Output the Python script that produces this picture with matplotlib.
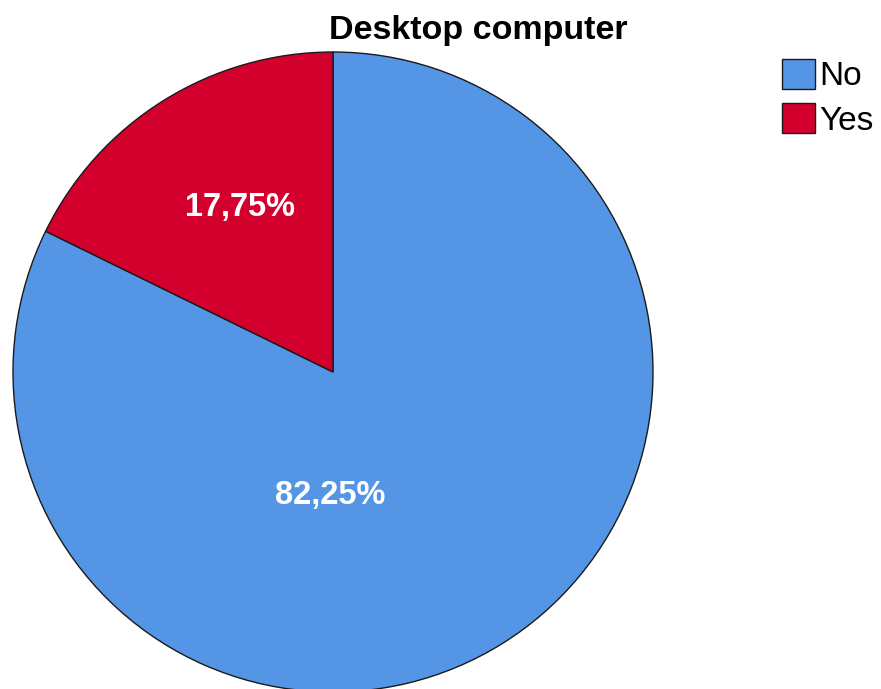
import matplotlib.pyplot as plt
from matplotlib.patches import Patch

labels = ["No", "Yes"]
values = [82.25, 17.75]
pct_labels = ["82,25%", "17,75%"]
colors = ["#5595E5", "#D3002D"]

W, H = 881, 689
fig = plt.figure(figsize=(W / 100, H / 100), dpi=100)
plt.rcParams['font.family'] = ['Liberation Sans', 'DejaVu Sans']

# pie axes placed in pixels: left 13, top 52, diameter 640
ax = fig.add_axes([13 / W, (H - 692) / H, 640 / W, 640 / H])
wedges, texts = ax.pie(values, colors=colors, startangle=90, counterclock=False,
                       wedgeprops=dict(edgecolor="#1a1a1a", linewidth=1.0))
ax.set_xlim(-1, 1)
ax.set_ylim(-1, 1)
ax.set_aspect("equal")
for w in wedges:
    w.set_clip_on(False)

# percentage labels
ax.text(-0.01, -0.385, pct_labels[0], color="white", fontsize=23.5, fontweight="bold",
        ha="center", va="center")
ax.text(-0.29, 0.515, pct_labels[1], color="white", fontsize=23.5, fontweight="bold",
        ha="center", va="center")

fig.text(478 / W, 1 - 31 / H, "Desktop computer", fontsize=24.5, fontweight="bold",
         ha="center", va="center")

handles = [Patch(facecolor=c, edgecolor="#1a1a1a", linewidth=1.0) for c in colors]
fig.legend(handles, labels, loc="upper left", bbox_to_anchor=(782 / W, 1 - 59 / H),
           frameon=False, fontsize=24, handlelength=1.0, handleheight=1.0,
           handletextpad=0.12, labelspacing=0.33, borderaxespad=0, borderpad=0)

fig.savefig("out.png", dpi=100)
